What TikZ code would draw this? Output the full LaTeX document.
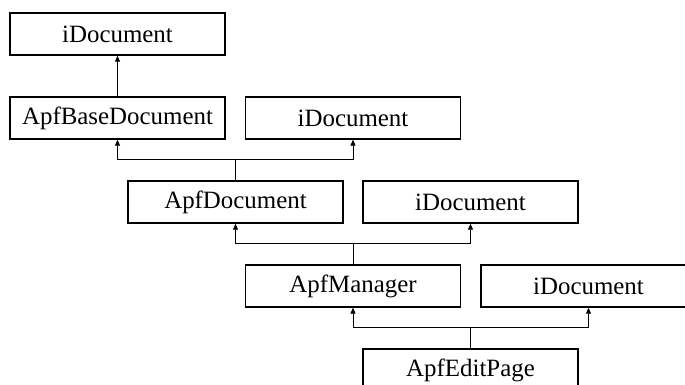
\documentclass[tikz,border=0pt]{standalone}
\usepackage{fontspec}
\setmainfont{Liberation Serif}
\usetikzlibrary{arrows.meta}

\begin{document}
\begin{tikzpicture}[x=1pt, y=1pt, font=\fontsize{24.9}{30}\selectfont,
    cls/.style={draw, line width=1.4pt, minimum width=215pt, minimum height=42pt, inner sep=0pt},
    inh/.style={line width=0.8pt, -{Triangle[length=6pt,width=5pt]}}]
  \useasboundingbox (0,0) rectangle (685,-385);
  \clip (0,0) rectangle (685,-385);
  % classes
  \node[cls] (idocA)   at (117.5,-34)  {iDocument};
  \node[cls] (apfbase) at (117.5,-118) {ApfBaseDocument};
  \node[cls] (idocB)   at (353,-118)   {iDocument};
  \node[cls] (apfdoc)  at (235.5,-202) {ApfDocument};
  \node[cls] (idocC)   at (470.5,-202) {iDocument};
  \node[cls] (apfman)  at (353,-286)   {ApfManager};
  \node[cls] (idocD)   at (588.5,-286) {iDocument};
  \node[cls] (apfedit) at (470.5,-370) {ApfEditPage};
  % inheritance
  \draw[inh] (apfbase) -- (idocA);
  \draw[inh] (apfdoc.north) -- ++(0,21) -| (apfbase.south);
  \draw[inh] (apfdoc.north) -- ++(0,21) -| (idocB.south);
  \draw[inh] (apfman.north) -- ++(0,21) -| (apfdoc.south);
  \draw[inh] (apfman.north) -- ++(0,21) -| (idocC.south);
  \draw[inh] (apfedit.north) -- ++(0,21) -| (apfman.south);
  \draw[inh] (apfedit.north) -- ++(0,21) -| (idocD.south);
\end{tikzpicture}
\end{document}
